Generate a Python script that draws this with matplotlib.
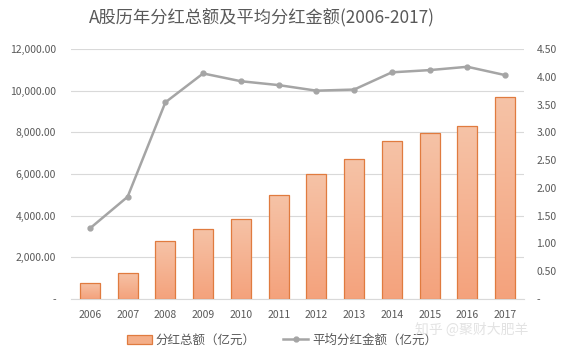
import matplotlib
matplotlib.use("Agg")
import matplotlib.pyplot as plt
import numpy as np
from matplotlib.ticker import FuncFormatter
from matplotlib.colors import LinearSegmentedColormap
from matplotlib.lines import Line2D
from matplotlib.patches import Patch

plt.rcParams['font.family'] = ['Noto Sans CJK SC', 'DejaVu Sans']

years = ['2006', '2007', '2008', '2009', '2010', '2011', '2012', '2013', '2014', '2015', '2016', '2017']
total_div = [770, 1250, 2780, 3370, 3850, 4990, 5990, 6710, 7590, 7970, 8290, 9690]
avg_div = [1.27, 1.84, 3.54, 4.06, 3.92, 3.85, 3.75, 3.77, 4.08, 4.12, 4.18, 4.03]
left_ticks = [0, 2000, 4000, 6000, 8000, 10000, 12000]
right_ticks = [0, 0.5, 1.0, 1.5, 2.0, 2.5, 3.0, 3.5, 4.0, 4.5]

label_bar = '分红总额（亿元）'
label_line = '平均分红金额（亿元）'
title = 'A股历年分红总额及平均分红金额(2006-2017)'

txt = '#595959'
fig = plt.figure(figsize=(5.65, 3.58), dpi=100)
ax = fig.add_axes([71/565, 1-299/358, (524-71)/565, 250/358])
x = np.arange(len(years))
w = 0.53

cmap = LinearSegmentedColormap.from_list('g', ['#F4A27C', '#F6C3A7'])
grad = np.linspace(0, 1, 256).reshape(-1, 1)
bars = ax.bar(x, total_div, width=w, facecolor='none', edgecolor='#E07B3F', linewidth=0.9, zorder=3)
for b in bars:
    x0, y0 = b.get_x(), b.get_y()
    im = ax.imshow(grad, cmap=cmap, origin='lower', aspect='auto',
                   extent=[x0, x0 + b.get_width(), y0, y0 + b.get_height()], zorder=2)
    im.set_clip_path(b)

ax.set_xlim(-0.5, len(years) - 0.5)
ax.set_ylim(0, 12000)
ax.set_yticks(left_ticks)
ax.yaxis.set_major_formatter(FuncFormatter(lambda v, p: '-' if v == 0 else f'{v:,.2f}'))
ax.set_xticks(x)
ax.set_xticklabels(years)
ax.grid(axis='y', color='#D9D9D9', linewidth=0.8, zorder=0)
ax.set_axisbelow(True)
for s in ['top', 'right', 'left']:
    ax.spines[s].set_visible(False)
ax.spines['bottom'].set_color('#D9D9D9')
ax.tick_params(axis='both', length=0, colors=txt, labelsize=7.5)
ax.tick_params(axis='y', pad=11)
ax.tick_params(axis='x', pad=8)

ax2 = ax.twinx()
ax2.plot(x, avg_div, color='#A5A5A5', linewidth=1.8, marker='o', markersize=3.5,
         markerfacecolor='#A5A5A5', markeredgecolor='#A5A5A5', zorder=5)
ax2.set_ylim(0, 4.5)
ax2.set_yticks(right_ticks)
ax2.yaxis.set_major_formatter(FuncFormatter(lambda v, p: '-' if v == 0 else f'{v:.2f}'))
for s in ['top', 'right', 'left', 'bottom']:
    ax2.spines[s].set_visible(False)
ax2.tick_params(axis='y', length=0, colors=txt, labelsize=7.5, pad=9)

fig.text(262/565, 1-18/358, title, ha='center', va='center', fontsize=12.4, color=txt)

handles = [Patch(facecolor='#F4AE88', edgecolor='#E07B3F', linewidth=0.9),
           Line2D([0], [0], color='#A5A5A5', linewidth=1.8, marker='o', markersize=3.5)]
fig.legend(handles, [label_bar, label_line], loc='center', bbox_to_anchor=(282/565, 1-340/358),
           ncol=2, frameon=False, fontsize=9, labelcolor=txt, handlelength=2.0,
           handletextpad=0.3, columnspacing=2.2)

fig.text(415/565, 1-330/358, '知乎 @聚财大肥羊', ha='left', va='center', fontsize=10,
         color='#E3E3E3', zorder=10)

fig.savefig('out.png', dpi=100)
